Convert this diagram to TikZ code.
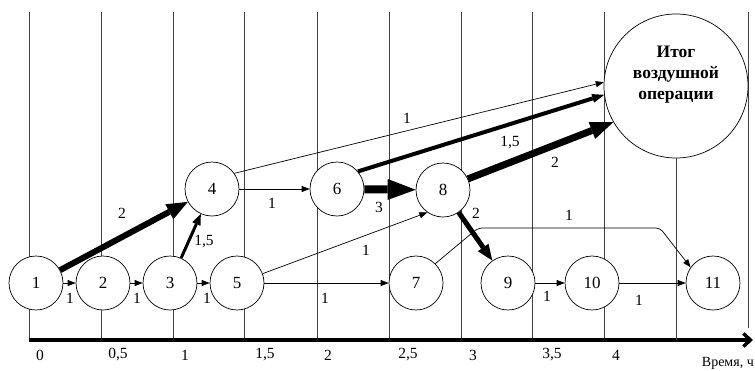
\documentclass[tikz,border=0pt]{standalone}
\usepackage{fontspec}
\setmainfont{Liberation Serif}
\usetikzlibrary{arrows.meta}

\begin{document}
\begin{tikzpicture}[x=1pt, y=-1pt,
      every node/.style={font=\fontsize{15.5}{17}\selectfont, inner sep=1pt},
      ev/.style={draw, circle, fill=white, line width=0.7pt,
                 minimum size=54pt, inner sep=0pt,
                 font=\fontsize{17}{18}\selectfont},
      grid/.style={draw=black!75, line width=0.7pt},
      arr/.style={-{Triangle[length=8pt, width=6pt]}, line width=0.7pt},
      fat/.style n args={3}{line width=#1,
                 -{Triangle[length=#2, width=#3, line width=0pt]}},
      axis/.style={line width=3.5pt, -{Straight Barb[length=7pt, width=13pt]}},
  ]
    \useasboundingbox (0,0) rectangle (755,370);

    % time grid
    \foreach \x in {29,101,173,244,317,389,461,532,604}
      \draw[grid] (\x,12) -- (\x,340);
    \draw[grid] (748,12) -- (748,328);
    \draw[axis] (29,340) -- (753,340);

    % events
    \node[ev] (n1) at (36,283) {1};
    \node[ev] (n2) at (103,283) {2};
    \node[ev] (n3) at (170,283) {3};
    \node[ev] (n5) at (237,283) {5};
    \node[ev] (n7) at (416,283) {7};
    \node[ev] (n9) at (508,283) {9};
    \node[ev] (n10) at (592,283) {10};
    \node[ev] (n11) at (713,283) {11};
    \node[ev] (n4) at (212,189) {4};
    \node[ev] (n6) at (337,189) {6};
    \node[ev] (n8) at (443,190) {8};
    \node[ev, minimum size=144pt, align=center,
          font=\bfseries\fontsize{17.5}{21}\selectfont] (res) at (676,86)
      {Итог\\воздушной\\операции\\[6pt]};
    \draw[grid] (res.south) -- (676,340);

    % thin links
    \draw[arr] (n1) -- (n2);
    \draw[arr] (n2) -- (n3);
    \draw[arr] (n3) -- (n5);
    \draw[arr] (n5) -- (n7);
    \draw[arr] (n4) -- (n6);
    \draw[arr] (n9) -- (n10);
    \draw[arr] (n10) -- (n11);
    \draw[arr] (n4.35) -- (res.177);
    \draw[arr] (n5.20) -- (n8.235);
    \draw[arr, rounded corners=4pt] (n7.45) -- (478,228) -- (660,228) -- (n11.145);

    % heavy links
    \draw[fat={6pt}{21pt}{17pt}] (n1) -- (n4);
    \draw[fat={3pt}{11pt}{9pt}] (n3) -- (n4);
    \draw[fat={8pt}{28pt}{21pt}] (n6) -- (n8);
    \draw[fat={4pt}{12pt}{9pt}] (n6.40) -- (res.187);
    \draw[fat={7pt}{23pt}{18pt}] (n8.24) -- (res.210);
    \draw[fat={5pt}{16pt}{13pt}] (n8) -- (n9);

    % durations
    \node (d14) at (122,213) {2};
    \node (d12) at (70,298) {1};
    \node (d23) at (137,298) {1};
    \node (d35) at (207,298) {1};
    \node (d34) at (204,242) {1,5};
    \node (d46) at (272,203) {1};
    \node (d68) at (379,207) {3};
    \node (d4r) at (407,118) {1};
    \node (d6r) at (510,143) {1,5};
    \node (d8r) at (555,162) {2};
    \node (d89) at (476,213) {2};
    \node (d58) at (366,250) {1};
    \node (d57) at (325,298) {1};
    \node (d711) at (569,215) {1};
    \node (d910) at (547,296) {1};
    \node (d1011) at (639,300) {1};

    % time marks
    \foreach \x/\t [count=\i] in {40/0, 118/{0,5}, 185/1, 265/{1,5}, 328/2,
                                  408/{2,5}, 473/3, 552/{3,5}, 616/4}
      \node (t\i) at (\x,355) {\t};
    \node[anchor=east, font=\fontsize{14}{15}\selectfont] (tname) at (755,363) {Время, ч};
  \end{tikzpicture}
\end{document}
